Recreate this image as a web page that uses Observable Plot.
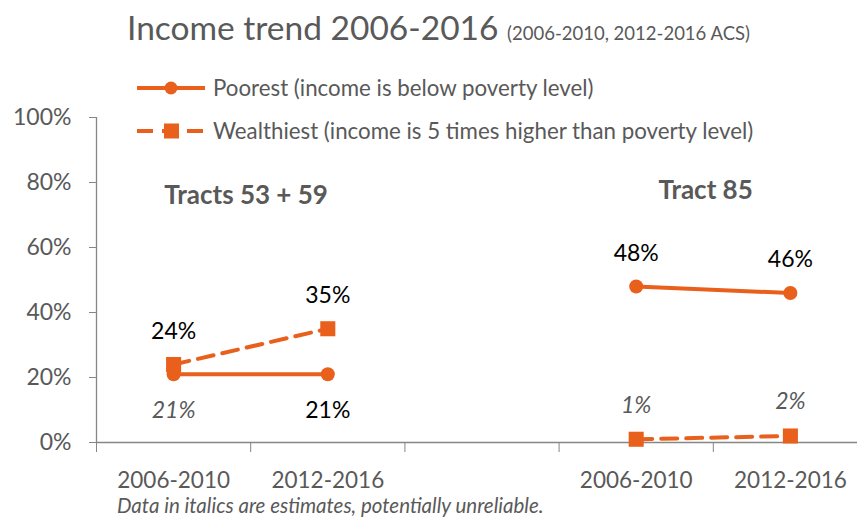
<!DOCTYPE html>
<html>
<head>
<meta charset="utf-8">
<script src="https://cdn.jsdelivr.net/npm/d3@7"></script>
<script src="https://cdn.jsdelivr.net/npm/@observablehq/plot@0.6"></script>
<style>
  html, body { margin: 0; padding: 0; background: #fff; }
  #wrap { position: relative; width: 857px; height: 517px; font-family: Lato, "Open Sans", sans-serif; overflow: hidden; }
  #chart { position: absolute; left: 0; top: 0; }
  .abs { position: absolute; white-space: nowrap; color: #595959; }
  #title { left: 127px; top: 7px; font-size: 33.5px; }
  #title small { font-size: 18.5px; }
  .leg { left: 135px; font-size: 22.3px; display: flex; align-items: center; line-height: 26px; }
  .leg svg { margin-right: 6px; }
  #foot { left: 117px; top: 493px; font-size: 20.5px; font-style: italic; line-height: 24px; }
</style>
</head>
<body>
<div id="wrap">
  <div id="chart"></div>
  <div id="title" class="abs">Income trend 2006-2016 <small>(2006-2010, 2012-2016 ACS)</small></div>
  <div class="abs leg" style="top:75px"><svg width="72" height="22"><line x1="2" y1="11" x2="70" y2="11" stroke="#E8601C" stroke-width="4"/><circle cx="36" cy="11" r="6.5" fill="#E8601C"/></svg>Poorest (income is below poverty level)</div>
  <div class="abs leg" style="top:118px"><svg width="72" height="22"><line x1="2" y1="11" x2="70" y2="11" stroke="#E8601C" stroke-width="4" stroke-dasharray="16,9"/><rect x="29" y="3.5" width="15" height="15" fill="#E8601C"/></svg>Wealthiest (income is 5 times higher than poverty level)</div>
  <div id="foot" class="abs">Data in italics are estimates, potentially unreliable.</div>
</div>
<script>
// ---- data ----
const groups = ["Tracts 53 + 59", "Tracts 53 + 59", "Tract 85", "Tract 85"];
const periods = ["2006-2010", "2012-2016", "2006-2010", "2012-2016"];
const slots = [0.5, 1.5, 3.5, 4.5];           // category slots (slot 2.5 is an empty gap)
const poorest = [21, 21, 48, 46];
const wealthiest = [24, 35, 1, 2];
const poorestEstimate = [true, false, false, false];
const wealthiestEstimate = [false, false, true, true];
const poorestLabelSide = ["below", "below", "above", "above"];
const wealthiestLabelSide = ["above", "above", "above", "above"];
const groupTitles = ["Tracts 53 + 59", "Tract 85"];
const groupTitleSlots = [0.97, 3.95];
const groupTitleValues = [0.76, 0.775];
const yTicks = [0, 0.2, 0.4, 0.6, 0.8, 1.0];
const slotEdges = [0, 1, 2, 3, 4, 5];

const color = "#E8601C";
const gray = "#595959";
const axisGray = "#868686";

const rows = [];
slots.forEach((s, i) => {
  rows.push({series: "Poorest", group: groups[i], period: periods[i], x: s, v: poorest[i] / 100,
             est: poorestEstimate[i], side: poorestLabelSide[i]});
  rows.push({series: "Wealthiest", group: groups[i], period: periods[i], x: s, v: wealthiest[i] / 100,
             est: wealthiestEstimate[i], side: wealthiestLabelSide[i]});
});
const poorRows = rows.filter(d => d.series === "Poorest");
const wealthRows = rows.filter(d => d.series === "Wealthiest");
const lbl = d => Math.round(d.v * 100) + "%";
const titles = groupTitles.map((t, i) => ({t, x: groupTitleSlots[i], y: groupTitleValues[i]}));

const plot = Plot.plot({
  width: 857,
  height: 517,
  marginLeft: 96,
  marginRight: 0,
  marginTop: 117,
  marginBottom: 75,
  style: {fontFamily: "Lato, 'Open Sans', sans-serif", background: "transparent", overflow: "visible"},
  x: {domain: [0, 5], range: [96, 867]},
  y: {domain: [0, 1]},
  marks: [
    Plot.ruleX([0], {y1: 0, y2: 1, stroke: axisGray, strokeWidth: 1.3}),
    Plot.ruleY([0], {stroke: axisGray, strokeWidth: 1.3}),
    Plot.axisY({ticks: yTicks, tickFormat: d3.format(".0%"), tickSize: 7, tickPadding: 18,
                stroke: axisGray, fill: gray, fontSize: 23, label: null}),
    Plot.axisX({ticks: slotEdges, tickFormat: () => "", tickSize: 10, stroke: axisGray, label: null}),
    Plot.text(slots, {x: d => d, y: 0, text: (d, i) => periods[i], dy: 38, fill: gray, fontSize: 22.5}),
    Plot.line(poorRows, {x: "x", y: "v", z: "group", stroke: color, strokeWidth: 4}),
    Plot.line(wealthRows, {x: "x", y: "v", z: "group", stroke: color, strokeWidth: 4, strokeDasharray: "16,9"}),
    Plot.dot(poorRows, {x: "x", y: "v", r: 7, fill: color, symbol: "circle"}),
    Plot.dot(wealthRows, {x: "x", y: "v", r: 8.5, fill: color, symbol: "square"}),
    Plot.text(rows.filter(d => !d.est && d.side === "above"), {x: "x", y: "v", text: lbl, dy: -33, fill: "#000", fontSize: 23}),
    Plot.text(rows.filter(d => !d.est && d.side === "below"), {x: "x", y: "v", text: lbl, dy: 36, fill: "#000", fontSize: 23}),
    Plot.text(rows.filter(d => d.est && d.side === "above"), {x: "x", y: "v", text: lbl, dy: -34, fill: gray, fontSize: 23, fontStyle: "italic"}),
    Plot.text(rows.filter(d => d.est && d.side === "below"), {x: "x", y: "v", text: lbl, dy: 36, fill: gray, fontSize: 23, fontStyle: "italic"}),
    Plot.text(titles, {x: "x", y: "y", text: "t", fill: gray, fontSize: 26, fontWeight: "bold"})
  ]
});
document.getElementById("chart").appendChild(plot);
</script>
</body>
</html>
